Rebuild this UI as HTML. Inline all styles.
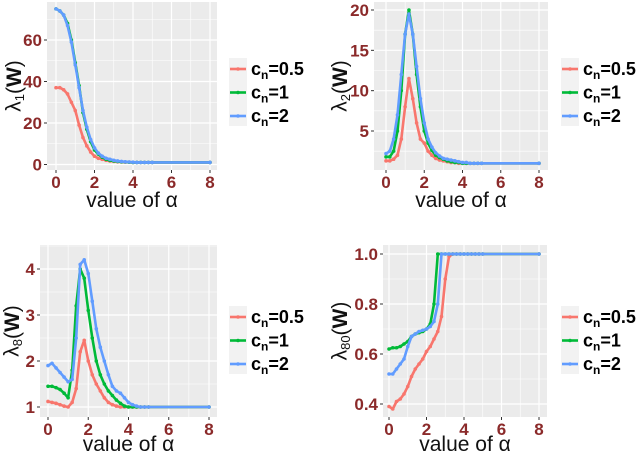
<!DOCTYPE html>
<html><head><meta charset="utf-8"><style>
body{margin:0;background:#fff}
svg{display:block;font-family:"Liberation Sans",sans-serif}
</style></head><body>
<svg id="chart" width="640" height="455" viewBox="0 0 640 455"></svg>
<script>
const alpha=[0,0.2,0.4,0.6,0.8,1.0,1.2,1.4,1.6,1.8,2.0,2.2,2.4,2.6,2.8,3.0,3.2,3.4,3.6,3.8,4.0,4.2,4.4,4.6,4.8,5.0,8.0];
const seriesNames=["c_n=0.5","c_n=1","c_n=2"];
const l1_05=[37,37,36,34,30,26,19,13,9,6,4,3,2.5,2,1.7,1.5,1.3,1.2,1.1,1.1,1,1,1,1,1,1,1];
const l1_1=[75,74,72,68,60,49,38,25,17,11,7,5,3.5,2.5,2,1.7,1.5,1.3,1.2,1.1,1,1,1,1,1,1,1];
const l1_2=[75,74,72,67,59,48,37,26,18,12,8,5.5,4,3,2.5,2,1.7,1.5,1.3,1.2,1.1,1,1,1,1,1,1];
const l2_05=[1.3,1.3,1.5,2,4,8,11.5,9,6,4,3.5,2.5,2,1.6,1.4,1.3,1.2,1.1,1.1,1,1,1,1,1,1,1,1];
const l2_1=[1.8,1.8,2.5,5,10,17,20,17,12,8,5,3.5,2.6,2,1.7,1.5,1.3,1.2,1.1,1.1,1,1,1,1,1,1,1];
const l2_2=[2.2,2.5,4,7,12,17,19.5,17,13,9,6,4,3,2.3,1.9,1.6,1.5,1.4,1.3,1.2,1.1,1.1,1,1,1,1,1];
const l8_05=[1.12,1.1,1.08,1.05,1.02,1.0,1.1,1.4,2.2,2.45,2.0,1.7,1.5,1.35,1.2,1.1,1.05,1.02,1,1,1,1,1,1,1,1,1];
const l8_1=[1.45,1.45,1.42,1.38,1.3,1.2,1.8,3.2,4.0,3.8,3.1,2.5,2.0,1.7,1.5,1.35,1.25,1.15,1.08,1.02,1,1,1,1,1,1,1];
const l8_2=[1.9,1.95,1.85,1.75,1.65,1.55,1.6,2.5,4.1,4.2,3.9,3.3,2.7,2.3,2.0,1.7,1.45,1.35,1.3,1.2,1.1,1.05,1.02,1,1,1,1];
const l80_05=[0.39,0.38,0.41,0.42,0.44,0.47,0.51,0.54,0.56,0.58,0.61,0.63,0.66,0.69,0.75,0.9,0.99,1,1,1,1,1,1,1,1,1,1];
const l80_1=[0.62,0.625,0.625,0.63,0.64,0.65,0.67,0.68,0.685,0.69,0.70,0.72,0.8,1,1,1,1,1,1,1,1,1,1,1,1,1,1];
const l80_2=[0.52,0.52,0.54,0.56,0.58,0.63,0.67,0.68,0.69,0.695,0.70,0.71,0.73,0.8,1,1,1,1,1,1,1,1,1,1,1,1,1];
const xTicks=[0,2,4,6,8];
const yTicks1=[0,20,40,60], yTicks2=[5,10,15,20], yTicks3=[1,2,3,4], yTicks4=[0.4,0.6,0.8,1.0];
const yLabels4=["0.4","0.6","0.8","1.0"];

const NS="http://www.w3.org/2000/svg";
const svg=document.getElementById('chart');
const colors=["#F8766D","#00BA38","#619CFF"];
function el(t,a,p){const e=document.createElementNS(NS,t);for(const k in a)e.setAttribute(k,a[k]);(p||svg).appendChild(e);return e;}

const panels=[
 {id:"lambda1",sub:"1",L:47,R:217,T:2,B:170,x0:56,x8:210,ya:0,ypa:164.5,yb:60,ypb:40,ticks:yTicks1,labels:null,data:[l1_05,l1_1,l1_2],ylx:14,lgx:229,lgy:58,xl:207},
 {id:"lambda2",sub:"2",L:374,R:548,T:2,B:170,x0:386,x8:539,ya:20,ypa:10,yb:5,ypb:131,ticks:yTicks2,labels:null,data:[l2_05,l2_1,l2_2],ylx:340,lgx:561,lgy:58,xl:207},
 {id:"lambda8",sub:"8",L:40,R:217,T:245,B:417,x0:48,x8:209,ya:4,ypa:269,yb:1,ypb:407,ticks:yTicks3,labels:null,data:[l8_05,l8_1,l8_2],ylx:12,lgx:229,lgy:306,xl:451},
 {id:"lambda80",sub:"80",L:383,R:547,T:245,B:417,x0:389,x8:539,ya:1.0,ypa:254,yb:0.4,ypb:404,ticks:yTicks4,labels:yLabels4,data:[l80_05,l80_1,l80_2],ylx:340,lgx:561,lgy:306,xl:451}
];

panels.forEach(p=>{
  const g=el('g',{});
  
  
  const X=v=>p.x0+(p.x8-p.x0)*v/8;
  const Y=v=>p.ypb+(v-p.yb)*(p.ypa-p.ypb)/(p.ya-p.yb);
  const bg=el('rect',{x:p.L,y:p.T,width:p.R-p.L,height:p.B-p.T,fill:"#EBEBEB"},g);
  
  
  [1,3,5,7].forEach(v=>el('line',{x1:X(v),x2:X(v),y1:p.T,y2:p.B,stroke:"#fff","stroke-width":0.6},g));
  const step=p.ticks[1]-p.ticks[0];
  for(let i=-1;i<p.ticks.length;i++){const v=p.ticks[0]+step*(i+0.5);const y=Y(v);if(y>p.T&&y<p.B)el('line',{x1:p.L,x2:p.R,y1:y,y2:y,stroke:"#fff","stroke-width":0.6},g);}
  xTicks.forEach(v=>{
    el('line',{x1:X(v),x2:X(v),y1:p.T,y2:p.B,stroke:"#fff","stroke-width":1.2},g);
    el('line',{x1:X(v),x2:X(v),y1:p.B,y2:p.B+3,stroke:"#333","stroke-width":1},g);
    const t=el('text',{x:X(v),y:p.B+18,"text-anchor":"middle","font-size":17,"font-weight":"bold",fill:"#8B2A2A"},g);
    t.textContent=v;
    
    
  });
  p.ticks.forEach((v,i)=>{
    const y=Y(v);
    el('line',{x1:p.L,x2:p.R,y1:y,y2:y,stroke:"#fff","stroke-width":1.2},g);
    el('line',{x1:p.L-3,x2:p.L,y1:y,y2:y,stroke:"#333","stroke-width":1},g);
    const t=el('text',{x:p.L-5,y:y+6,"text-anchor":"end","font-size":17,"font-weight":"bold",fill:"#8B2A2A"},g);
    t.textContent=p.labels?p.labels[i]:v;
    
    
  });
  p.data.forEach((d,si)=>{
    const pts=d.map((v,i)=>X(alpha[i]).toFixed(1)+","+Y(v).toFixed(1)).join(" ");
    const pl=el('polyline',{points:pts,fill:"none",stroke:colors[si],"stroke-width":2.6,"stroke-linejoin":"round"},g);
    
    
    d.forEach((v,i)=>{const c=el('circle',{cx:X(alpha[i]),cy:Y(v),r:1.8,fill:colors[si]},g);
      
      });
  });
  const cy=(p.T+p.B)/2;
  const yt=el('text',{x:p.ylx,y:cy,transform:`rotate(-90 ${p.ylx} ${cy})`,"text-anchor":"middle","dominant-baseline":"central","font-size":21,fill:"#111"},g);
  yt.innerHTML=`λ<tspan font-size="13" dy="5">${p.sub}</tspan><tspan dy="-5">(</tspan><tspan font-weight="bold">W</tspan>)`;
  
  
  const xt=el('text',{x:(p.L+p.R)/2,y:p.xl,"text-anchor":"middle","font-size":21,fill:"#111"},g);
  xt.textContent="value of α";
  
  
  const lg=el('g',{},g);
  
  
  el('rect',{x:p.lgx,y:p.lgy,width:18,height:68,fill:"#F2F2F2"},lg);
  const lbl=["=0.5","=1","=2"];
  lbl.forEach((s,i)=>{
    const y=p.lgy+11+i*23.5;
    const e=el('g',{},lg);
    
    
    el('line',{x1:p.lgx+1,x2:p.lgx+17,y1:y,y2:y,stroke:colors[i],"stroke-width":2.6},e);
    el('circle',{cx:p.lgx+9,cy:y,r:1.8,fill:colors[i]},e);
    const t=el('text',{x:p.lgx+22,y:y+6,"font-size":18,"font-weight":"bold",fill:"#000"},e);
    t.innerHTML=`c<tspan font-size="12" dy="4">n</tspan><tspan dy="-4">${s}</tspan>`;
  });
});
</script>
</body></html>
